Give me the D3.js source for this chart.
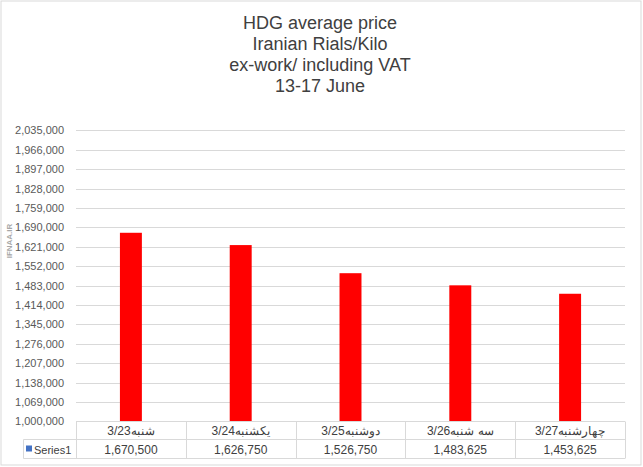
<!DOCTYPE html>
<html lang="en">
<head>
  <meta charset="UTF-8">
  <script src="https://d3js.org/d3.v7.min.js"></script>
  <title>HDG average price</title>
  <style>
    body { margin: 0; background: #fff; }
    text { font-family: "Liberation Sans", Arial, sans-serif; }
    .tick text { fill: #595959; font-size: 11px; }
    .grid line { stroke: #d9d9d9; }
    .tbl line { stroke: #d9d9d9; }
    .tbl text { fill: #404040; font-size: 12px; }
  </style>
</head>
<body>
  <svg width="643" height="467"></svg>

  <script>
    const width = 643, height = 467;

    const titleLines = ["HDG average price", "Iranian Rials/Kilo", "ex-work/ including VAT", "13-17 June"];
    const categories = ["3/23شنبه", "3/24یکشنبه", "3/25دوشنبه", "3/26سه شنبه", "3/27چهارشنبه"];
    const values = [1670500, 1626750, 1526750, 1483625, 1453625];
    const yTicks = [1000000, 1069000, 1138000, 1207000, 1276000, 1345000, 1414000, 1483000,
                    1552000, 1621000, 1690000, 1759000, 1828000, 1897000, 1966000, 2035000];
    const seriesName = "Series1";

    const plot = { left: 76, right: 625, top: 130.3, bottom: 421.3 };

    const svg = d3.select("svg");

    // outer border
    svg.append("rect")
      .attr("x", 1).attr("y", 1)
      .attr("width", width - 3).attr("height", height - 3)
      .attr("fill", "#fff")
      .attr("stroke", "#d9d9d9");

    // title
    svg.append("g")
      .selectAll("text")
      .data(titleLines)
      .enter()
      .append("text")
      .attr("x", 320)
      .attr("y", (d, i) => 29 + i * 21)
      .attr("text-anchor", "middle")
      .attr("fill", "#404040")
      .style("font-size", "18px")
      .text(d => d);

    const x = d3.scaleBand()
      .domain(categories)
      .range([plot.left, plot.right])
      .paddingInner(0)
      .paddingOuter(0);

    const y = d3.scaleLinear()
      .domain([yTicks[0], yTicks[yTicks.length - 1]])
      .range([plot.bottom, plot.top]);

    // gridlines
    svg.append("g")
      .attr("class", "grid")
      .selectAll("line")
      .data(yTicks.slice(1))
      .enter()
      .append("line")
      .attr("x1", plot.left)
      .attr("x2", plot.right)
      .attr("y1", d => Math.round(y(d)) + 0.5)
      .attr("y2", d => Math.round(y(d)) + 0.5);

    // y axis labels
    const yAxis = d3.axisLeft(y)
      .tickValues(yTicks)
      .tickSize(0)
      .tickPadding(12)
      .tickFormat(d3.format(","));

    svg.append("g")
      .attr("transform", `translate(${plot.left},0)`)
      .call(yAxis)
      .call(g => g.select(".domain").remove());

    // bars
    const barW = x.bandwidth() * 0.2;
    svg.append("g")
      .selectAll("rect")
      .data(values)
      .enter()
      .append("rect")
      .attr("x", (d, i) => x(categories[i]) + (x.bandwidth() - barW) / 2)
      .attr("width", barW)
      .attr("y", d => y(d))
      .attr("height", d => plot.bottom - y(d))
      .attr("fill", "#ff0000");

    // watermark
    svg.append("text")
      .attr("transform", "translate(12,241) rotate(-90)")
      .attr("text-anchor", "middle")
      .attr("fill", "#a6a6a6")
      .style("font-size", "8px")
      .style("font-weight", "bold")
      .text("IFNAA.IR");

    // data table
    const rowTop = 421.5, rowMid = 439.5, rowBot = 458.5, tblLeft = 23.5;
    const tbl = svg.append("g").attr("class", "tbl");

    tbl.append("line").attr("x1", plot.left).attr("x2", plot.right).attr("y1", rowTop).attr("y2", rowTop);
    tbl.append("line").attr("x1", tblLeft).attr("x2", plot.right).attr("y1", rowMid).attr("y2", rowMid);
    tbl.append("line").attr("x1", tblLeft).attr("x2", plot.right).attr("y1", rowBot).attr("y2", rowBot);
    tbl.append("line").attr("x1", tblLeft).attr("x2", tblLeft).attr("y1", rowMid).attr("y2", rowBot);

    const edges = categories.map(c => x(c)).concat([plot.right]);
    tbl.selectAll("line.v")
      .data(edges)
      .enter()
      .append("line")
      .attr("class", "v")
      .attr("x1", d => Math.round(d) + 0.5)
      .attr("x2", d => Math.round(d) + 0.5)
      .attr("y1", rowTop)
      .attr("y2", rowBot);

    tbl.selectAll("text.cat")
      .data(categories)
      .enter()
      .append("text")
      .attr("class", "cat")
      .attr("x", d => x(d) + x.bandwidth() / 2)
      .attr("y", rowTop + 13)
      .attr("text-anchor", "middle")
      .text(d => d);

    tbl.selectAll("text.val")
      .data(values)
      .enter()
      .append("text")
      .attr("class", "val")
      .attr("x", (d, i) => x(categories[i]) + x.bandwidth() / 2)
      .attr("y", rowMid + 14)
      .attr("text-anchor", "middle")
      .text(d => d3.format(",")(d));

    tbl.append("rect")
      .attr("x", 26).attr("y", rowMid + 6)
      .attr("width", 6).attr("height", 6)
      .attr("fill", "#4472c4");

    tbl.append("text")
      .attr("x", 34)
      .attr("y", rowMid + 14)
      .style("font-size", "11px")
      .text(seriesName);
  </script>
</body>
</html>
